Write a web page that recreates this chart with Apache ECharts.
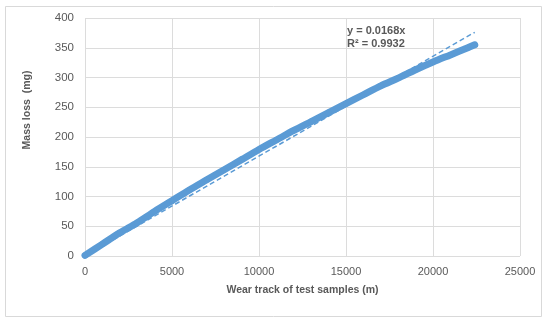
<!DOCTYPE html>
<html>
<head>
<meta charset="utf-8">
<script src="https://cdn.jsdelivr.net/npm/echarts@6/dist/echarts.min.js"></script>
<style>
html,body{margin:0;padding:0;background:#fff;}
#chart{width:550px;height:326px;}
</style>
</head>
<body>
<div id="chart"></div>
<script>
// Wear track (m) and mass loss (mg)
var wearTrack = [0, 1000, 2000, 3000, 4000, 5000, 6000, 7000, 8000, 9000, 10000, 11000, 12000, 13000, 14000, 15000, 16000, 17000, 18000, 19000, 20000, 21000, 22000, 22400];
var massLoss  = [1, 20, 39, 56, 75, 93, 111, 128, 145, 162, 179, 195, 211, 226, 241, 256, 271, 286, 299, 313, 326, 338, 350, 355];
// Linear trendline (through origin) end points
var trendX = [0, 22400];
var trendY = [0, 376];
var equationText = ['y = 0.0168x', 'R² = 0.9932'];
var xTicks = [0, 5000, 10000, 15000, 20000, 25000];
var yTicks = [0, 50, 100, 150, 200, 250, 300, 350, 400];

var chart = echarts.init(document.getElementById('chart'), null, {renderer: 'canvas'});
var font = 'Liberation Sans, Arial, sans-serif';
var option = {
  backgroundColor: '#ffffff',
  animation: false,
  grid: {left: 85, right: 30, top: 18, bottom: 70},
  xAxis: {
    type: 'value',
    min: xTicks[0], max: xTicks[xTicks.length - 1], interval: xTicks[1] - xTicks[0],
    name: 'Wear track of test samples (m)',
    nameLocation: 'middle', nameGap: 29,
    nameTextStyle: {fontFamily: font, fontSize: 10.5, fontWeight: 'bold', color: '#595959'},
    axisLine: {show: false}, axisTick: {show: false},
    axisLabel: {fontFamily: font, fontSize: 11, color: '#595959', margin: 10,
      formatter: function (v) { return String(v); }},
    splitLine: {show: true, lineStyle: {color: '#dcdcdc', width: 1}}
  },
  yAxis: {
    type: 'value',
    min: yTicks[0], max: yTicks[yTicks.length - 1], interval: yTicks[1] - yTicks[0],
    name: 'Mass loss  (mg)',
    nameLocation: 'middle', nameGap: 52, nameRotate: 90,
    nameTextStyle: {fontFamily: font, fontSize: 10.5, fontWeight: 'bold', color: '#595959', padding: [0, 0, 0, 54]},
    axisLine: {show: false}, axisTick: {show: false},
    axisLabel: {fontFamily: font, fontSize: 11.5, color: '#595959', margin: 11,
      formatter: function (v) { return String(v); }},
    splitLine: {show: true, lineStyle: {color: '#dcdcdc', width: 1}}
  },
  graphic: [
    {type: 'rect', shape: {x: 5.5, y: 6.5, width: 536, height: 310}, style: {fill: 'none', stroke: '#d9d9d9', lineWidth: 1}, silent: true},
    {type: 'text', left: 347, top: 25, style: {text: equationText[0], fontFamily: font, fontSize: 11, fontWeight: 'bold', fill: '#595959'}},
    {type: 'text', left: 347, top: 38, style: {text: equationText[1], fontFamily: font, fontSize: 11, fontWeight: 'bold', fill: '#595959'}}
  ],
  series: [
    {
      type: 'line',
      data: wearTrack.map(function (x, i) { return [x, massLoss[i]]; }),
      smooth: 0.3,
      symbol: 'circle', symbolSize: 6, showSymbol: true,
      itemStyle: {color: '#5b9bd5'},
      lineStyle: {color: '#5b9bd5', width: 7, cap: 'round', join: 'round'},
      z: 3
    },
    {
      type: 'line',
      data: trendX.map(function (x, i) { return [x, trendY[i]]; }),
      symbol: 'none',
      lineStyle: {color: '#5b9bd5', width: 1.5, type: [5, 3]},
      z: 2
    }
  ]
};
chart.setOption(option);
</script>
</body>
</html>
